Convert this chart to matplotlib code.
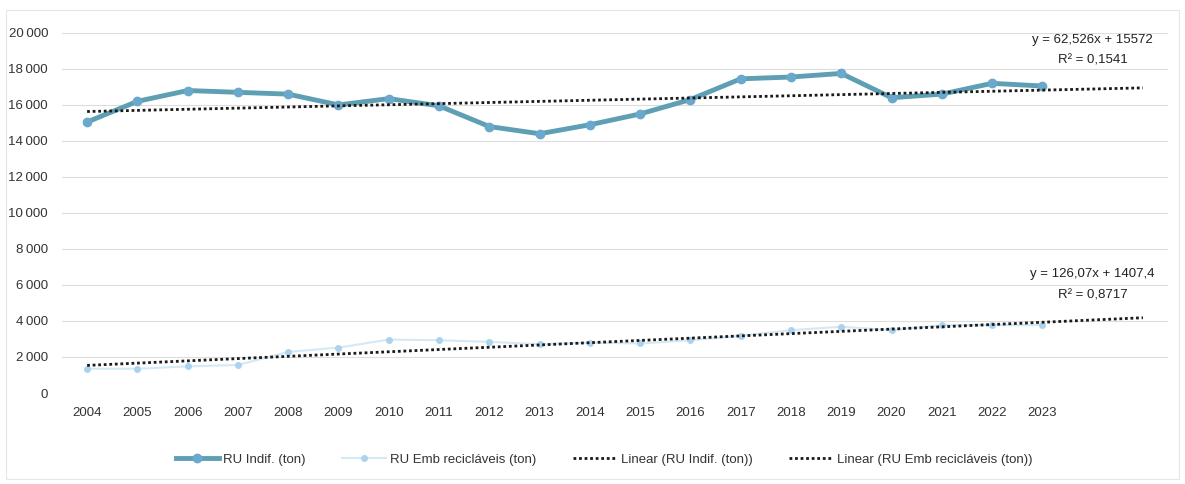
import numpy as np
import matplotlib.pyplot as plt
from matplotlib.ticker import FuncFormatter

plt.rcParams['font.family'] = ['Liberation Sans', 'DejaVu Sans']

years = [str(y) for y in range(2004, 2024)]
ru_indif = [15050, 16200, 16800, 16700, 16600, 16000, 16350, 15950, 14800, 14400,
            14900, 15500, 16300, 17450, 17550, 17750, 16400, 16600, 17200, 17050]
ru_emb = [1350, 1350, 1480, 1560, 2280, 2520, 2970, 2930, 2840, 2710,
          2800, 2750, 2930, 3175, 3490, 3680, 3490, 3770, 3770, 3770]

# trendline coefficients as printed on the chart (Excel, x = 1..n, 2 periods forward)
trend_indif = (62.526, 15572)
trend_emb = (126.07, 1407.4)
forward = 2

fig = plt.figure(figsize=(11.85, 4.84), dpi=100)
ax = fig.add_axes([0.0523, 0.188, 0.9334, 0.744])

x = np.arange(len(years))
xt = np.arange(len(years) + forward)

ax.plot(x, ru_indif, color='#5e9fb3', lw=3.5, marker='o', ms=6,
        mfc='#6aa8cc', mec='#6aa8cc', label='RU Indif. (ton)', zorder=3)
ax.plot(x, ru_emb, color='#d3e9f6', lw=1.5, marker='o', ms=4,
        mfc='#acd2ee', mec='#acd2ee', label='RU Emb recicláveis (ton)', zorder=3)
ax.plot(xt, trend_indif[0] * (xt + 1) + trend_indif[1], color='#1a1a1a', lw=2,
        ls=(0, (1, 1)), label='Linear (RU Indif. (ton))', zorder=4)
ax.plot(xt, trend_emb[0] * (xt + 1) + trend_emb[1], color='#1a1a1a', lw=2,
        ls=(0, (1, 1)), label='Linear (RU Emb recicláveis (ton))', zorder=4)

fs = 9.5
ax.text(20.0, 19620, 'y = 62,526x + 15572', ha='center', va='center', fontsize=fs, color='#222222')
ax.text(20.0, 18440, 'R² = 0,1541', ha='center', va='center', fontsize=fs, color='#222222')
ax.text(20.0, 6610, 'y = 126,07x + 1407,4', ha='center', va='center', fontsize=fs, color='#222222')
ax.text(20.0, 5390, 'R² = 0,8717', ha='center', va='center', fontsize=fs, color='#222222')

ax.set_xlim(-0.5, len(xt) - 0.5)
ax.set_ylim(0, 20000)
ax.set_xticks(x)
ax.set_xticklabels(years)
ax.set_yticks(np.arange(0, 20001, 2000))
ax.yaxis.set_major_formatter(FuncFormatter(lambda v, p: f'{int(v):,}'.replace(',', '\u2009')))
ax.tick_params(length=0, labelsize=fs, colors='#333333', pad=10)
ax.grid(axis='y', color='#dddddd', lw=0.8)
ax.set_axisbelow(True)
for s in ax.spines.values():
    s.set_visible(False)

ax.legend(loc='upper center', bbox_to_anchor=(0.49, -0.135), ncol=4, frameon=False,
          fontsize=fs, handlelength=3.3, handletextpad=0.3, columnspacing=2.8,
          labelcolor='#333333')

# thin border around the whole chart
fig.patches.append(plt.Rectangle((0.005, 0.01), 0.99, 0.97, transform=fig.transFigure,
                                 fill=False, ec='#e6e6e6', lw=0.8))

fig.savefig('out.png', dpi=100)
